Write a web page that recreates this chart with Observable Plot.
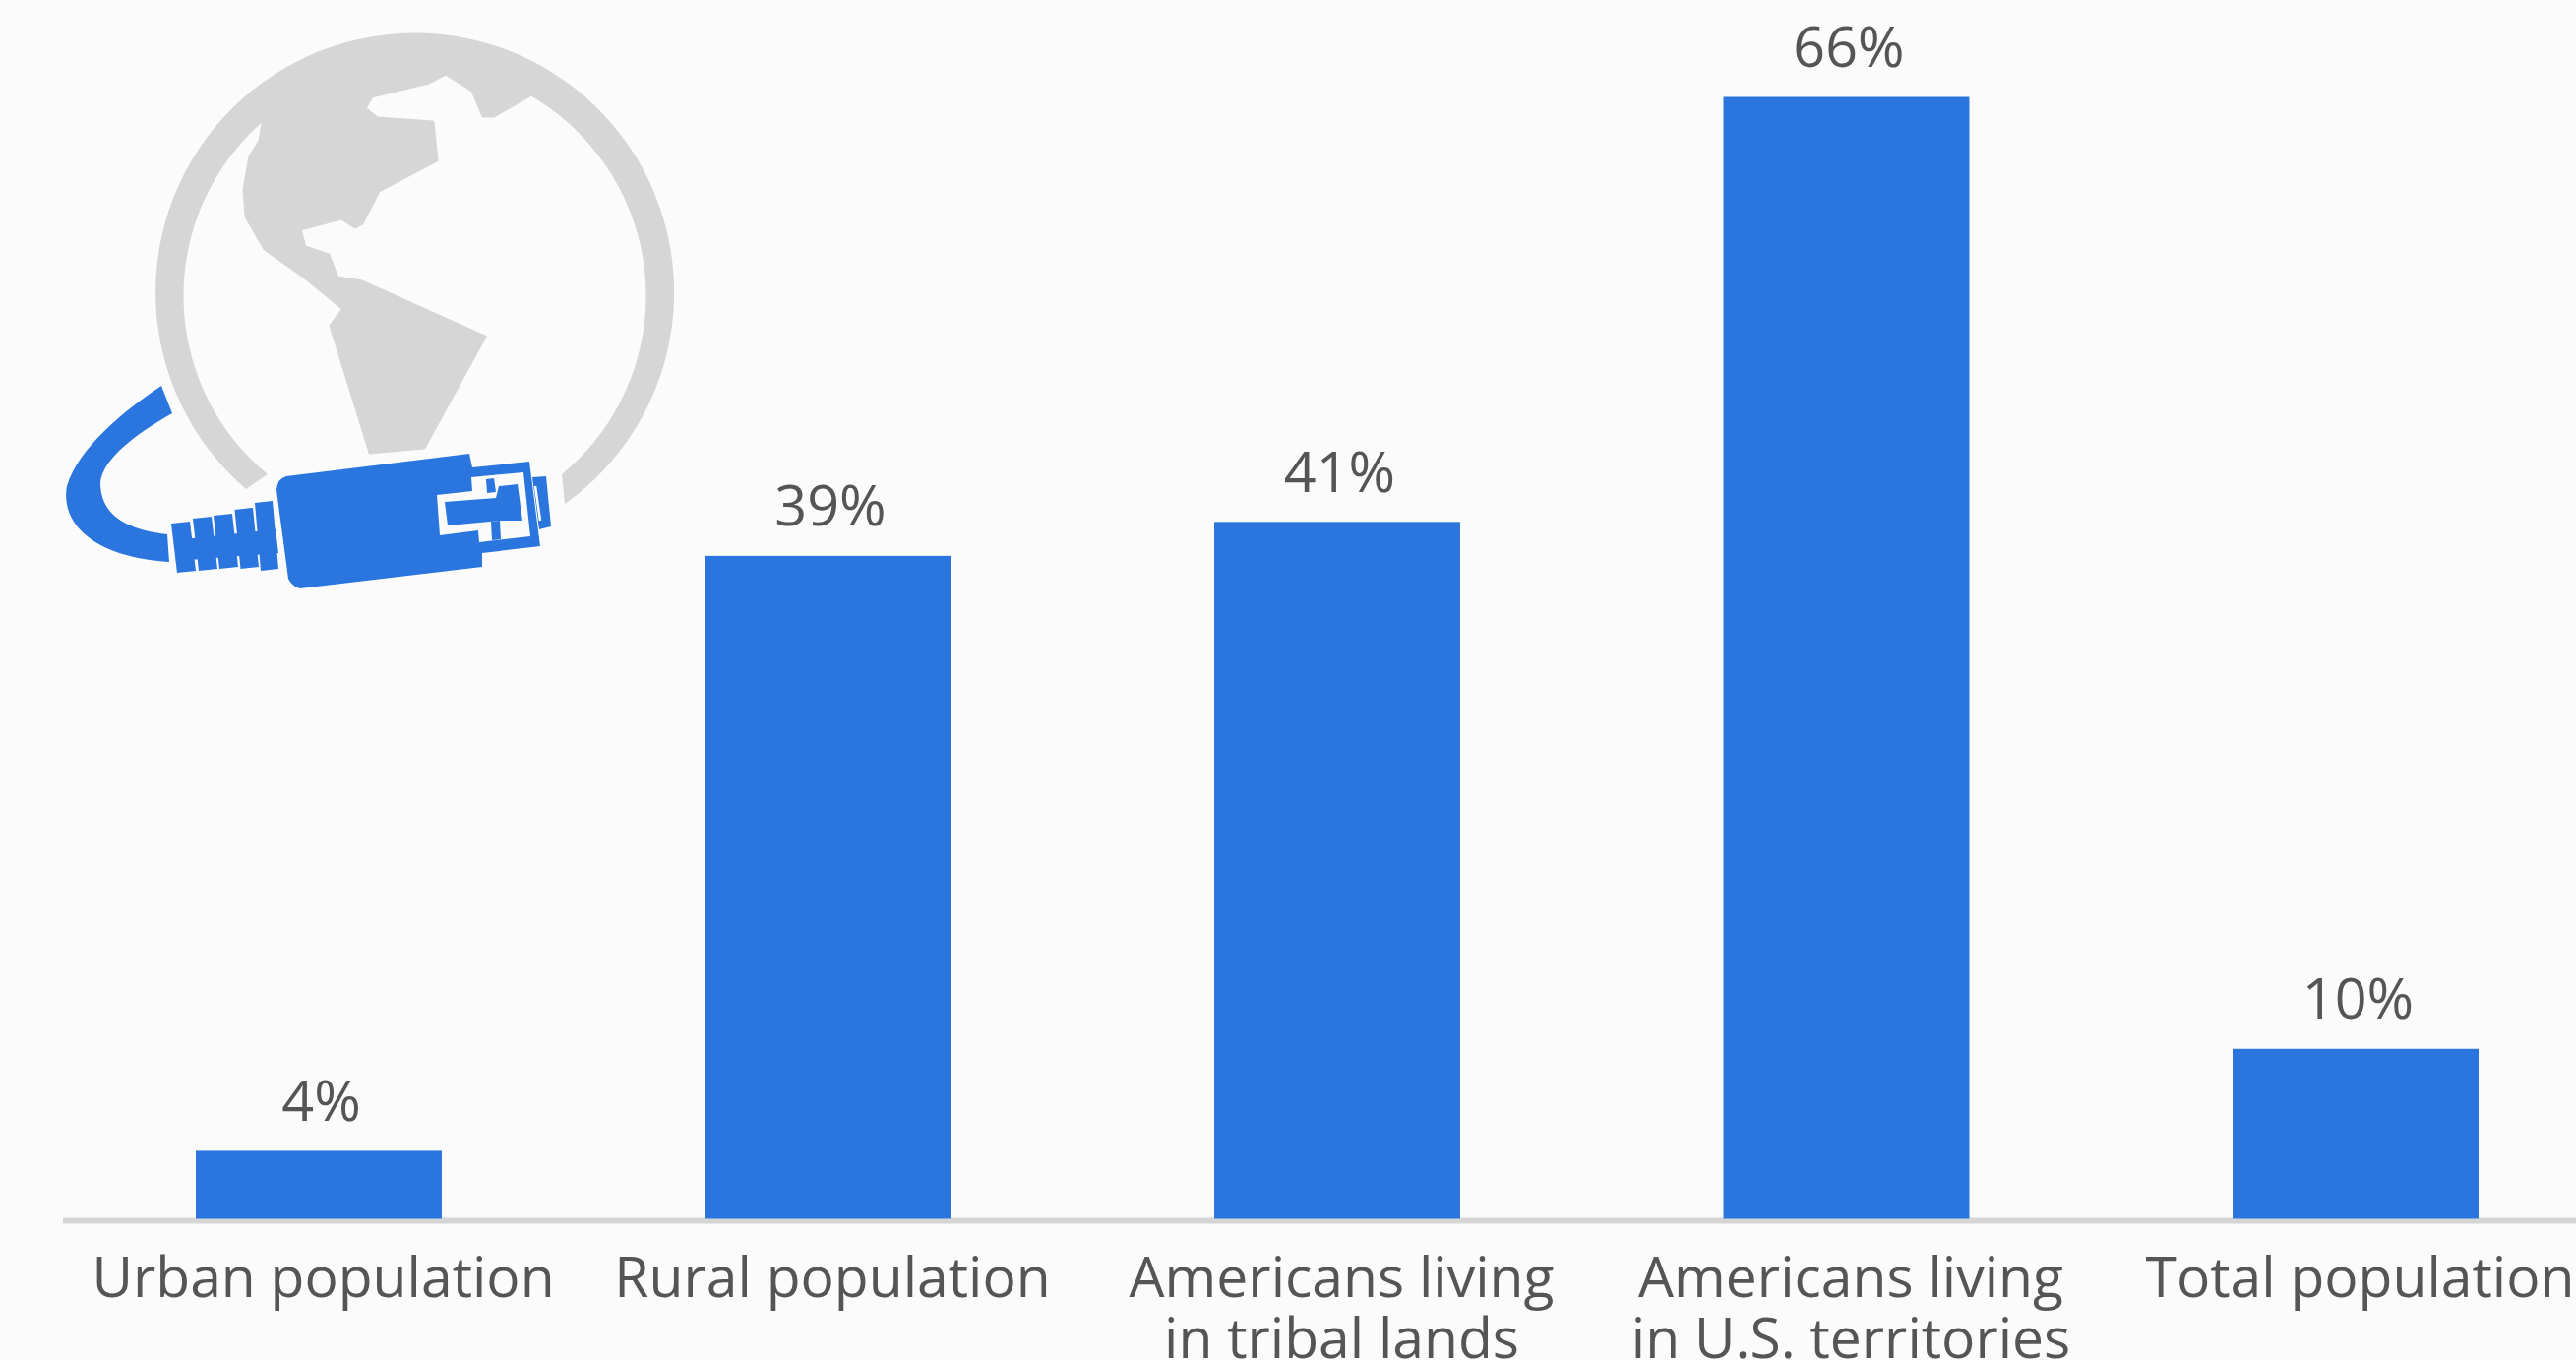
<!DOCTYPE html>
<html>
<head>
<meta charset="utf-8">
<script src="https://cdn.jsdelivr.net/npm/d3@7"></script>
<script src="https://cdn.jsdelivr.net/npm/@observablehq/plot@0.6"></script>
<style>
  html, body { margin: 0; padding: 0; background: #fbfbfb; overflow: hidden; }
  svg { display: block; overflow: hidden; }
</style>
</head>
<body>
<div id="chart"></div>
<script>
// Share of each group without broadband access, in percent
const categories = [
  "Urban population",
  "Rural population",
  "Americans living\nin tribal lands",
  "Americans living\nin U.S. territories",
  "Total population"
];
const shares = [4, 39, 41, 66, 10];
const rows = categories.map((category, i) => ({category, share: shares[i]}));

const BLUE = "#2a76de";
const GREY = "#d6d6d6";
const INK = "#555555";
const FONT = "'Open Sans', sans-serif";

// Decorative globe with a network plug, drawn in page pixels
function globeIcon() {
  const g = d3.create("svg:g");
  const bg = "#fbfbfb";
  // ring of the globe, open at the bottom
  g.append("path").attr("fill", GREY)
    .attr("d", "M250,497 A263.5,263.5 0 1 1 574,512 L571,482 A235,235 0 1 0 272,482 Z");
  // the Americas, joined to the ring at the top
  g.append("path").attr("fill", GREY).attr("stroke", GREY).attr("stroke-width", 3).attr("stroke-linejoin", "round")
    .attr("d", "M268,120 L264,143 L254,159 L248,192 L250,220 L269,253 L310,282 L349,314 L336,331 L376,460 L431,455 L493,342 L368,286 L343,282 L334,259 L310,251 L305,233 L347,222 L361,231 L368,227 L385,194 L444,163 L440,124 L383,120 L371,110 L378,98 L436,84 L453,75 L480,92 L491,118 L502,118 L540,96 L490,60 L340,60 Z");
  // cable
  g.append("path").attr("fill", BLUE)
    .attr("d", "M164,392 C125,418 80,455 68,494 C62,525 85,565 172,571 L170,543 C130,538 102,525 102,490 C105,465 140,440 175,420 Z");
  // strain relief: a spine with ribs growing towards the plug
  g.append("path").attr("fill", BLUE).attr("d", "M178,549 L280,538 L283,562 L180,570 Z");
  const ribs = [
    [174, 193, 530, 582],
    [196, 215, 525, 580],
    [217, 236, 522, 578],
    [238.5, 257, 516, 578],
    [259, 277, 509, 580]
  ];
  for (const [x0, x1, top, bottom] of ribs) {
    g.append("path").attr("fill", BLUE)
      .attr("d", `M${x0},${top + 2} L${x1},${top} L${x1 + 6},${bottom - 2} L${x0 + 6},${bottom} Z`);
  }
  // plug body
  g.append("path").attr("fill", BLUE)
    .attr("d", "M281,498 Q282,486 291,484 L477,461 L480,475 L538,469 L549,555 L490,562 L490,576 L305,598 Q297,596 293,588 Z");
  // latch tip
  g.append("path").attr("fill", BLUE).attr("d", "M541,485 L555,484 L560,535 L548,538 Z");
  g.append("path").attr("fill", "none").attr("stroke", bg).attr("stroke-width", 2.5).attr("d", "M544,494 L549,529");
  // contact window
  g.append("path").attr("fill", bg)
    .attr("d", "M444,503 L480,499 L479,485 L532,480 L539,545 L487,551 L486,539 L447,544 Z");
  g.append("path").attr("fill", BLUE)
    .attr("d", "M452,510 L504,506 L507,494 L526,492 L531,529 L509,529 L455,534 Z");
  g.append("path").attr("fill", BLUE).attr("d", "M494,487 L502,486 L504,500 L495,501 Z");
  g.append("path").attr("fill", BLUE).attr("d", "M499,530 L508,529 L509,548 L500,549 Z");
  return g.node();
}

const chart = Plot.plot({
  width: 2618,
  height: 1382,
  marginTop: 0,
  marginRight: 0,
  marginBottom: 0,
  marginLeft: 64,
  style: {background: "#fbfbfb", fontFamily: FONT},
  x: {
    domain: categories,
    range: [65.25, 2652.75],
    paddingInner: 0.517,
    paddingOuter: 0.2585,
    round: false,
    label: null
  },
  y: {domain: [0, 66], range: [1238.5, 98.5], axis: null},
  marks: [
    Plot.ruleY([0], {stroke: "#d5d5d5", strokeWidth: 6, dy: 1.5}),
    Plot.barY(rows, {x: "category", y: "share", fill: BLUE}),
    Plot.text(rows, {
      x: "category",
      y: "share",
      text: d => `${d.share}%`,
      dx: 2,
      dy: -31,
      lineAnchor: "bottom",
      fontSize: 57.5,
      fill: INK
    }),
    Plot.axisX({
      anchor: "bottom",
      tickSize: 0,
      tickPadding: 0,
      label: null,
      fontSize: 57,
      lineHeight: 1.08,
      lineAnchor: "top",
      dx: 4,
      dy: -108,
      fill: INK,
      tickFormat: d => d
    }),
    globeIcon
  ]
});
document.getElementById("chart").append(chart);
</script>
</body>
</html>
